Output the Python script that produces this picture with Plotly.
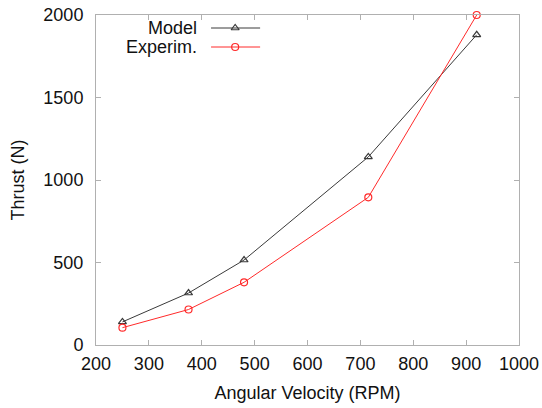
import plotly.graph_objects as go

rpm = [250, 375, 480, 715, 920]
model_thrust = [140, 315, 515, 1140, 1880]
exp_thrust = [105, 215, 380, 895, 2000]
x_ticks = [200, 300, 400, 500, 600, 700, 800, 900, 1000]
y_ticks = [0, 500, 1000, 1500, 2000]

FONT = "Liberation Sans, Arial, sans-serif"
MODEL_C = "#3a3a3a"
EXP_C = "#ff2a2a"

fig = go.Figure()
fig.add_trace(go.Scatter(x=rpm, y=model_thrust, mode="lines+markers", name="Model", cliponaxis=False,
                         line=dict(color=MODEL_C, width=1),
                         marker=dict(symbol="triangle-up-open", size=7, color=MODEL_C, line=dict(width=1.2))))
fig.add_trace(go.Scatter(x=rpm, y=exp_thrust, mode="lines+markers", name="Experim.", cliponaxis=False,
                         line=dict(color=EXP_C, width=1),
                         marker=dict(symbol="circle-open", size=7, color=EXP_C, line=dict(width=1.2))))

# manual legend (sample lines on an overlay axis in 0..1 units)
legend_items = [("Model", MODEL_C, "triangle-up-open", 0.9606),
                ("Experim.", EXP_C, "circle-open", 0.903)]
for label, col, sym, yy in legend_items:
    fig.add_trace(go.Scatter(x=[0.272, 0.388], y=[yy, yy], mode="lines", xaxis="x2", yaxis="y2",
                             line=dict(color=col, width=1), showlegend=False, hoverinfo="skip"))
    fig.add_trace(go.Scatter(x=[0.329], y=[yy], mode="markers", xaxis="x2", yaxis="y2",
                             marker=dict(symbol=sym, size=7, color=col, line=dict(width=1.2)),
                             showlegend=False, hoverinfo="skip"))
    fig.add_annotation(x=0.2435, y=yy, xref="paper", yref="paper", text=label, showarrow=False,
                       xanchor="right", yanchor="middle", font=dict(family=FONT, size=18, color="#111"))

axis_common = dict(showline=True, linecolor="#b0b0b0", linewidth=1, mirror="ticks", ticks="inside",
                   ticklen=5, tickcolor="#b0b0b0", showgrid=False, zeroline=False, automargin=False,
                   ticklabeloverflow="allow",
                   tickfont=dict(family=FONT, size=18, color="#111"))

fig.update_layout(
    width=542, height=408, margin=dict(l=96, r=23, t=15, b=63, autoexpand=False),
    paper_bgcolor="white", plot_bgcolor="white", showlegend=False,
    xaxis=dict(range=[200, 1000], tickvals=x_ticks, ticktext=[str(v) for v in x_ticks],
               ticklabelstandoff=2,
               title=dict(text="Angular Velocity (RPM)", font=dict(family=FONT, size=18, color="#111"), standoff=13),
               **axis_common),
    yaxis=dict(range=[0, 2000], tickvals=y_ticks, ticktext=[str(v) for v in y_ticks],
               ticklabelstandoff=8,
               title=dict(text="Thrust (N)", font=dict(family=FONT, size=18, color="#111"), standoff=14),
               **axis_common),
    xaxis2=dict(range=[0, 1], overlaying="x", visible=False),
    yaxis2=dict(range=[0, 1], overlaying="y", visible=False),
)

fig.write_html("out.html", config={"displayModeBar": False},
               post_script="document.body.style.margin='0';")
